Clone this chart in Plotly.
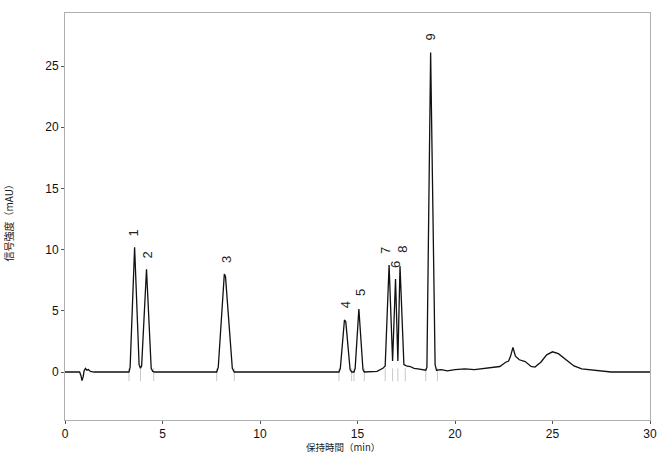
import plotly.graph_objects as go

# Chromatogram trace (retention time in min, signal in mAU)
time_min = [0, 0.75, 0.82, 0.87, 0.93, 0.98, 1.05, 1.12, 1.2, 1.3, 1.5,
            3.28, 3.34, 3.57, 3.8, 3.87,
            3.93, 4.18, 4.42, 4.5, 4.6,
            7.78, 7.86, 8.17, 8.23, 8.58, 8.68,
            14.05, 14.12, 14.33, 14.4, 14.62, 14.7,
            14.82, 14.88, 15.07, 15.28, 15.35,
            16.0, 16.3, 16.42, 16.62, 16.8, 16.95, 17.07,
            17.18, 17.38, 17.5, 17.7, 17.9, 18.1, 18.3, 18.5,
            18.56, 18.75, 18.98, 19.05, 19.3, 19.6, 20.0, 20.5, 21.0,
            21.5, 22.0, 22.3, 22.6, 22.75, 22.85, 22.97, 23.1, 23.3, 23.6, 23.9, 24.1,
            24.4, 24.7, 25.0, 25.3, 25.7, 26.1, 26.5, 27.0, 27.5, 28.0, 30.0]
signal_mau = [0, 0, -0.3, -0.7, -0.4, 0.1, 0.3, 0.15, 0.2, 0.05, 0,
              0, 0.4, 10.2, 0.6, 0.3,
              0.5, 8.4, 0.3, 0.05, 0,
              0, 0.4, 8.0, 7.8, 0.3, 0,
              0, 0.3, 4.25, 4.1, 0.2, 0,
              0, 0.3, 5.15, 0.2, 0,
              0.05, 0.3, 0.5, 8.75, 0.9, 7.6, 0.9,
              8.65, 0.6, 0.5, 0.45, 0.3, 0.25, 0.2, 0.15,
              0.4, 26.1, 0.6, 0.15, 0.2, 0.1, 0.2, 0.25, 0.2,
              0.3, 0.35, 0.45, 0.8, 0.9, 1.3, 2.0, 1.3, 1.0, 0.85, 0.45, 0.4,
              0.8, 1.4, 1.65, 1.5, 1.0, 0.5, 0.25, 0.15, 0.05, 0.0, 0.0]

# Peak labels
peak_labels = ["1", "2", "3", "4", "5", "7", "6", "8", "9"]
label_time = [3.56, 4.23, 8.25, 14.37, 15.13, 16.46, 16.92, 17.27, 18.75]
label_signal = [11.36, 9.56, 9.23, 5.47, 6.45, 9.97, 8.82, 10.05, 27.37]

# Integration boundary markers
boundary_time = [3.28, 3.87, 4.55, 7.78, 8.68, 14.05, 14.7, 14.82, 15.35,
                 16.42, 16.8, 17.07, 17.45, 18.5, 19.1]

x_ticks = [0, 5, 10, 15, 20, 25, 30]
y_ticks = [0, 5, 10, 15, 20, 25]

fig = go.Figure()

bx, by = [], []
for t in boundary_time:
    bx += [t, t, None]
    by += [0.3, -0.75, None]
fig.add_trace(go.Scatter(x=bx, y=by, mode="lines",
                         line=dict(color="#c8c8c8", width=1), hoverinfo="skip"))

fig.add_trace(go.Scatter(x=time_min, y=signal_mau, mode="lines",
                         line=dict(color="#111111", width=1.3)))

for lab, lx, ly in zip(peak_labels, label_time, label_signal):
    fig.add_annotation(x=lx, y=ly, text=lab, showarrow=False, textangle=-90,
                       xanchor="center", yanchor="middle",
                       font=dict(family="Liberation Sans, Arial", size=13, color="#222"))

fig.add_annotation(xref="paper", yref="paper", x=-0.0968, y=0.491,
                   text="信号強度（mAU）", showarrow=False, textangle=-90,
                   xanchor="center", yanchor="middle",
                   font=dict(family="Noto Sans CJK JP", size=10, color="#222"))
fig.add_annotation(xref="paper", yref="paper", x=0.475, y=-0.067,
                   text="保持時間（min）", showarrow=False,
                   xanchor="center", yanchor="middle",
                   font=dict(family="Noto Sans CJK JP", size=9.5, color="#222"))

axis_common = dict(showgrid=False, zeroline=False, showline=True, linecolor="#b0b0b0",
                   linewidth=1, mirror=True, ticks="outside", ticklen=3,
                   tickcolor="#555", tickfont=dict(family="Liberation Sans, Arial", size=12, color="#111"))

fig.update_xaxes(range=[0, 30], tickvals=x_ticks, **axis_common)
fig.update_yaxes(range=[-3.92, 29.33], tickvals=y_ticks, **axis_common)

fig.update_layout(width=669, height=453, margin=dict(l=65, r=15, t=13, b=33),
                  paper_bgcolor="white", plot_bgcolor="white", showlegend=False)

fig.write_html("out.html")
